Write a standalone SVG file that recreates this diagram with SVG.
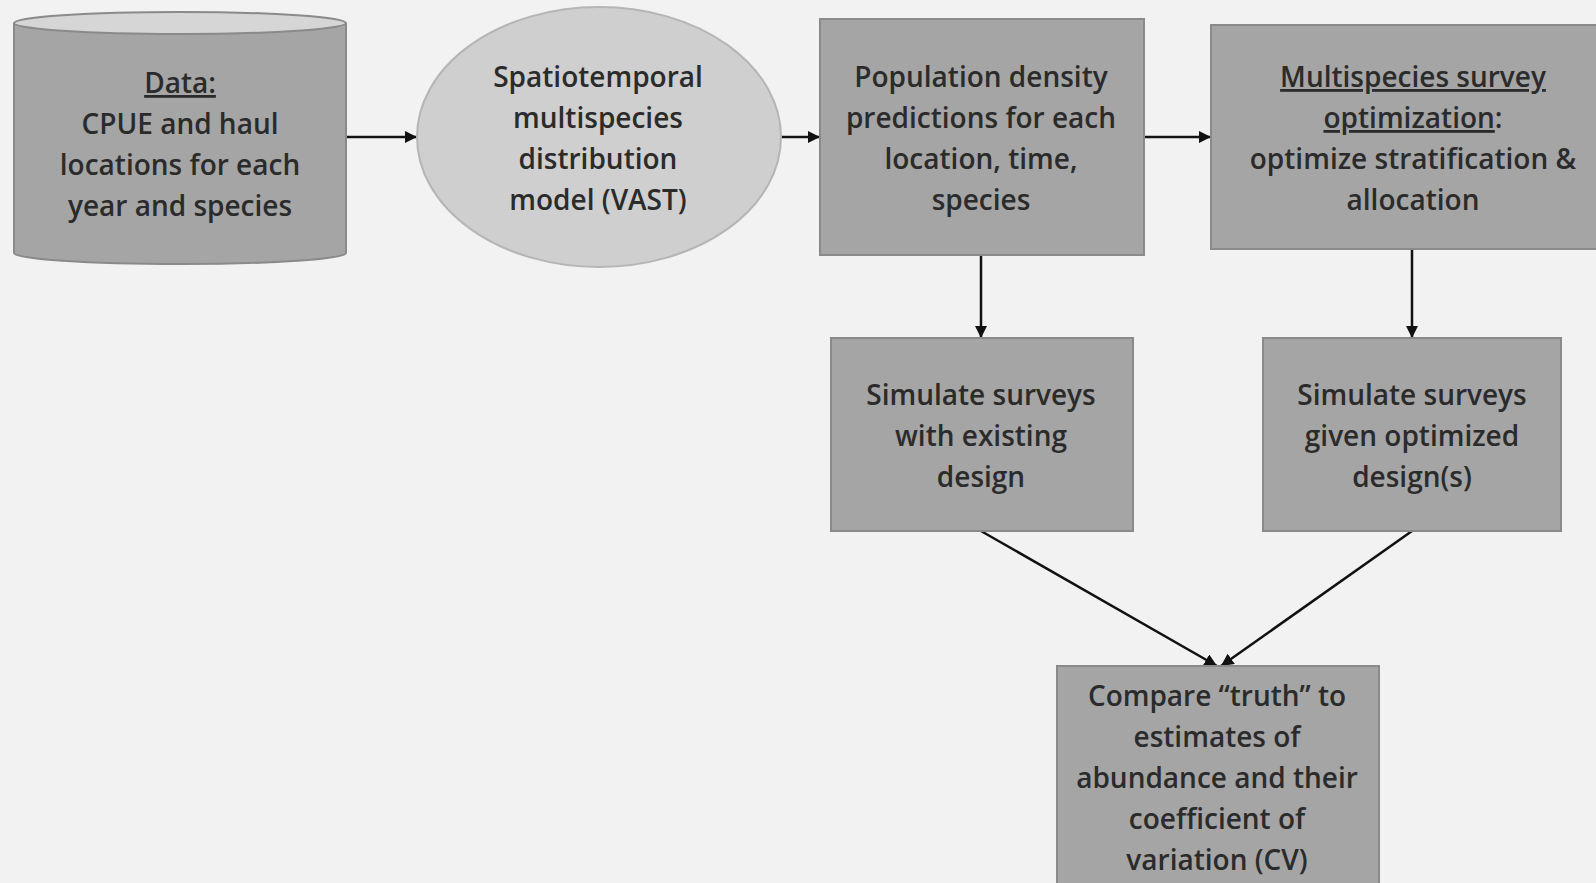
<svg xmlns="http://www.w3.org/2000/svg" width="1596" height="883" viewBox="0 0 1596 883">
<style>
.box{fill:#a5a5a5;stroke:#8a8a8a;stroke-width:2}
.t{font-family:"Open Sans","Liberation Sans",sans-serif;font-size:28px;font-weight:600;fill:#2b2b2b;text-anchor:middle}
.u{text-decoration:underline}
.c{stroke:#111;stroke-width:2.5;fill:none;marker-end:url(#ah)}
</style>
<defs>
<marker id="ah" viewBox="0 0 10 10" refX="10" refY="5" markerWidth="5" markerHeight="5" orient="auto" markerUnits="strokeWidth">
<path d="M0,0 L10,5 L0,10 z" fill="#111"/>
</marker>
</defs>
<rect width="1596" height="883" fill="#f2f2f2"/>
<g id="connectors">
<line class="c" x1="346" y1="137" x2="417" y2="137"/>
<line class="c" x1="781" y1="137" x2="820" y2="137"/>
<line class="c" x1="1144" y1="137" x2="1211" y2="137"/>
<line class="c" x1="981" y1="255" x2="981" y2="338"/>
<line class="c" x1="1412" y1="249" x2="1412" y2="338"/>
<line class="c" x1="981" y1="531" x2="1217" y2="666"/>
<line class="c" x1="1412" y1="531" x2="1221" y2="666"/>
</g>
<g id="data">
<path class="box" d="M14,23 L14,253 A166,11 0 0 0 346,253 L346,23"/>
<ellipse cx="180" cy="23" rx="166" ry="11" fill="#d6d6d6" stroke="#8a8a8a" stroke-width="2"/>
<text class="t" x="180" y="93"><tspan class="u">Data:</tspan><tspan x="180" dy="41">CPUE and haul</tspan><tspan x="180" dy="41">locations for each</tspan><tspan x="180" dy="41">year and species</tspan></text>
</g>
<g id="vast">
<ellipse cx="599" cy="137" rx="182" ry="130" fill="#cfcfcf" stroke="#b5b5b5" stroke-width="2"/>
<text class="t" x="598" y="87">Spatiotemporal<tspan x="598" dy="41">multispecies</tspan><tspan x="598" dy="41">distribution</tspan><tspan x="598" dy="41">model (VAST)</tspan></text>
</g>
<g id="density">
<rect class="box" x="820" y="19" width="324" height="236"/>
<text class="t" x="981" y="87">Population density<tspan x="981" dy="41">predictions for each</tspan><tspan x="981" dy="41">location, time,</tspan><tspan x="981" dy="41">species</tspan></text>
</g>
<g id="optimization">
<rect class="box" x="1211" y="25" width="400" height="224"/>
<text class="t" x="1413" y="87"><tspan class="u">Multispecies survey</tspan><tspan x="1413" dy="41"><tspan class="u">optimization</tspan>:</tspan><tspan x="1413" dy="41">optimize stratification &amp;</tspan><tspan x="1413" dy="41">allocation</tspan></text>
</g>
<g id="sim-existing">
<rect class="box" x="831" y="338" width="302" height="193"/>
<text class="t" x="981" y="405">Simulate surveys<tspan x="981" dy="41">with existing</tspan><tspan x="981" dy="41">design</tspan></text>
</g>
<g id="sim-optimized">
<rect class="box" x="1263" y="338" width="298" height="193"/>
<text class="t" x="1412" y="405">Simulate surveys<tspan x="1412" dy="41">given optimized</tspan><tspan x="1412" dy="41">design(s)</tspan></text>
</g>
<g id="compare">
<rect class="box" x="1057" y="666" width="322" height="230"/>
<text class="t" x="1217" y="706">Compare “truth” to<tspan x="1217" dy="41">estimates of</tspan><tspan x="1217" dy="41">abundance and their</tspan><tspan x="1217" dy="41">coefficient of</tspan><tspan x="1217" dy="41">variation (CV)</tspan></text>
</g>
</svg>
